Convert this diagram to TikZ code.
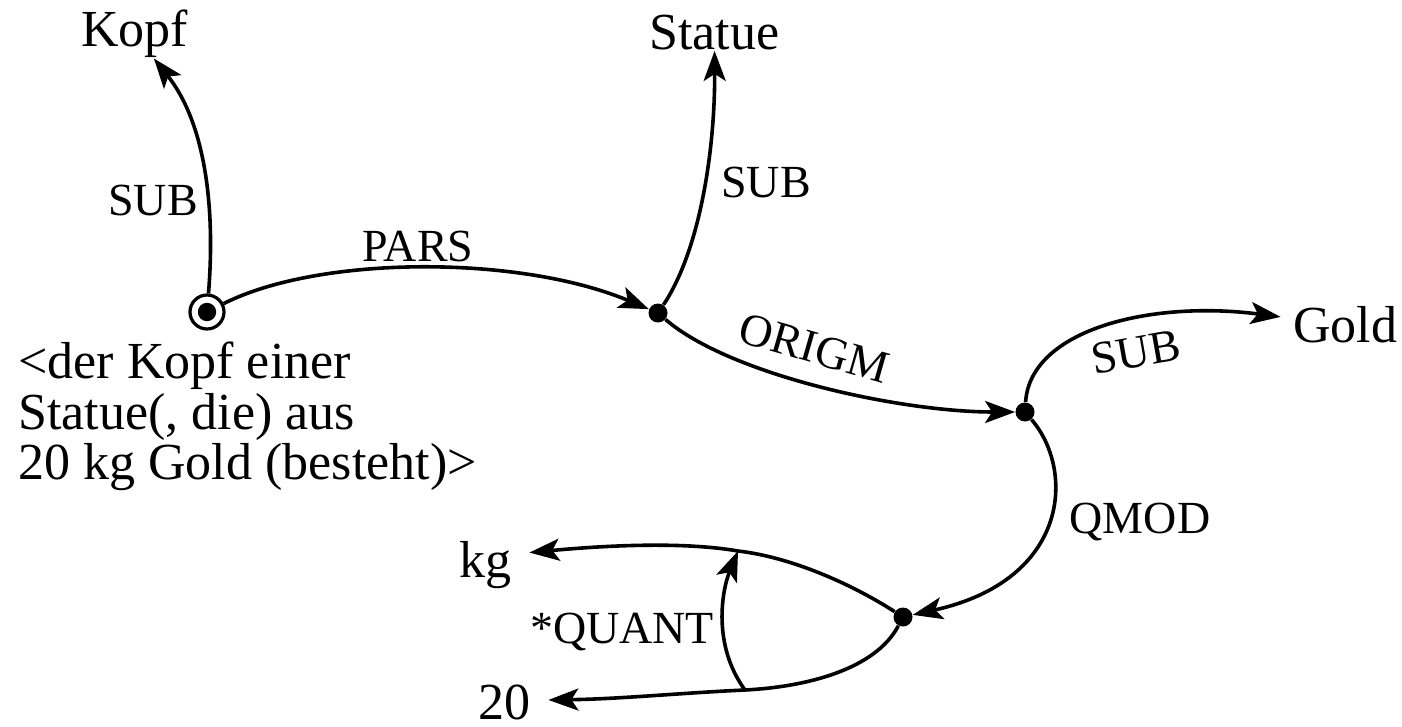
\documentclass[tikz,border=0pt]{standalone}
\usepackage{fontspec}
\setmainfont{Liberation Serif}
\usetikzlibrary{arrows.meta}
\begin{document}
\begin{tikzpicture}[x=0.5pt,y=-0.5pt,
  edge/.style={line width=1.8pt, -{Stealth[length=15pt,width=11pt,inset=3.5pt]}},
  dotnode/.style={circle, fill=black, inner sep=0pt, minimum size=9.5pt},
  topnode/.style={circle, draw, line width=1.6pt, inner sep=0pt, minimum size=17pt,
    path picture={\fill (path picture bounding box.center) circle[radius=4.6pt];}},
  word/.style={font=\fontsize{26pt}{26pt}\selectfont, inner sep=0pt, anchor=base},
  lab/.style={font=\fontsize{23pt}{23pt}\selectfont, inner sep=0pt},
]
\useasboundingbox (0,0) rectangle (1402,727);

% text nodes
\node[word] (kopf) at (134.5,47) {Kopf};
\node[word] (statue) at (714.5,50) {Statue};
\node[word, inner xsep=6pt] (gold) at (1345,343) {Gold};
\node[word] (kg) at (485,577) {kg};
\node[word] (twenty) at (504,719) {20};
\node[font=\fontsize{26pt}{25.25pt}\selectfont, inner sep=0pt, anchor=north west, align=left]
  (desc) at (18,341.5) {<der Kopf einer\\Statue(, die) aus\\20 kg Gold (besteht)>};

% concept nodes
\node[topnode] (n0) at (207,312) {};
\node[dotnode] (nB) at (658,313) {};
\node[dotnode] (nC) at (1025,412) {};
\node[dotnode] (nD) at (903,617) {};
\coordinate (qk) at (738,551);
\coordinate (q20) at (745,690);

% edges
\draw[edge] (n0) .. controls (216,200) and (203,120) .. (kopf);
\draw[edge] (n0) .. controls (320,255) and (520,255) .. (nB);
\draw[edge] (nB) .. controls (700,250) and (715,150) .. (statue);
\draw[edge] (nB) .. controls (730,375) and (900,412) .. (nC);
\draw[edge] (nC) .. controls (1030,330) and (1150,300) .. (gold);
\draw[edge] (nC) .. controls (1075,470) and (1070,580) .. (nD);
\draw[edge] (nD) .. controls (850,583) and (790,557) .. (qk)
  .. controls (680,541) and (600,546) .. ([xshift=9pt,yshift=6pt]kg.east);
\draw[edge] (nD) .. controls (875,670) and (805,687) .. (q20)
  .. controls (680,693) and (620,699) .. ([xshift=9pt,yshift=1pt]twenty.east);
\draw[edge] (q20) .. controls (712,645) and (722,590) .. (qk);

% labels
\node[lab] (l1) at (153,200) {SUB};
\node[lab] (l2) at (418,246) {PARS};
\node[lab] (l3) at (766,182) {SUB};
\node[lab, rotate=-16] (l4) at (814,348) {ORIGM};
\node[lab, rotate=10] (l5) at (1136,352) {SUB};
\node[lab] (l6) at (1140,522) {QMOD};
\node[lab] (l7) at (622,632) {*QUANT};
\end{tikzpicture}
\end{document}
